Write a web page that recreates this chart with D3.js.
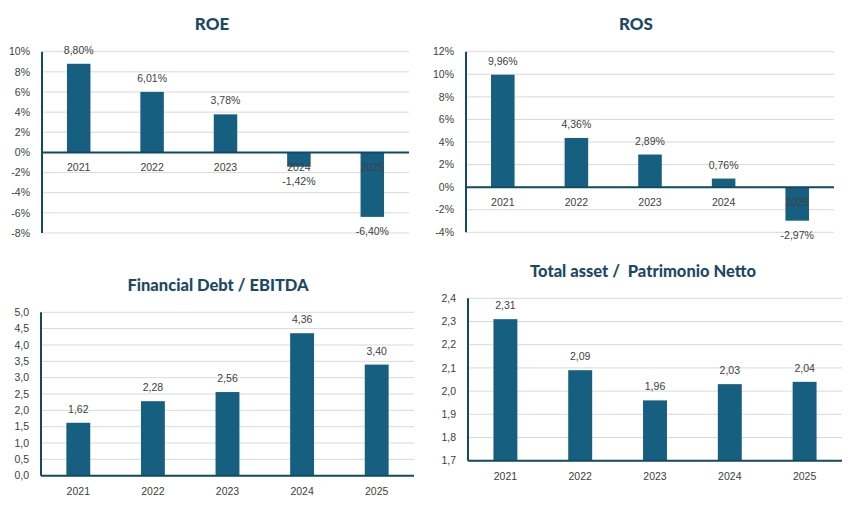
<!DOCTYPE html>
<html>
<head>
<meta charset="utf-8">
<script src="https://cdn.jsdelivr.net/npm/d3@7"></script>
<style>
  body { margin: 0; background: #fff; }
  svg { display: block; }
  .grid line { stroke: #d9d9d9; stroke-width: 1; }
  .tick-label, .cat-label, .val-label { font-family: "Liberation Sans", Arial, sans-serif; font-size: 10.5px; fill: #404040; }
  .title { font-family: Lato, "Open Sans", sans-serif; font-weight: 900; fill: #1d4a63; white-space: pre; }
</style>
</head>
<body>
<svg id="chart" width="857" height="520"></svg>
<script>
var years = ["2021", "2022", "2023", "2024", "2025"];

var roe = [8.80, 6.01, 3.78, -1.42, -6.40];
var roeTicks = [-8, -6, -4, -2, 0, 2, 4, 6, 8, 10];

var ros = [9.96, 4.36, 2.89, 0.76, -2.97];
var rosTicks = [-4, -2, 0, 2, 4, 6, 8, 10, 12];

var debtEbitda = [1.62, 2.28, 2.56, 4.36, 3.40];
var debtTicks = [0, 0.5, 1, 1.5, 2, 2.5, 3, 3.5, 4, 4.5, 5];

var assetEquity = [2.31, 2.09, 1.96, 2.03, 2.04];
var assetTicks = [1.7, 1.8, 1.9, 2.0, 2.1, 2.2, 2.3, 2.4];

var it = d3.formatLocale({decimal: ",", thousands: ".", grouping: [3], currency: ["", "€"], minus: "-"});
var pct0 = function (v) { return it.format(".0f")(v) + "%"; };
var pct2 = function (v) { return it.format(".2f")(v) + "%"; };
var dec1 = it.format(".1f");
var dec2 = it.format(".2f");

var svg = d3.select("#chart");

function drawPanel(p) {
    var g = svg.append("g");

    var x = d3.scaleBand()
        .domain(years)
        .range([p.left, p.right])
        .padding(0);
    var barW = x.bandwidth() * 0.32;

    var y = d3.scaleLinear()
        .domain([p.ticks[0], p.ticks[p.ticks.length - 1]])
        .range([p.bottom, p.top]);

    // gridlines
    g.append("g").attr("class", "grid")
        .selectAll("line")
        .data(p.ticks)
        .enter().append("line")
        .attr("x1", p.left).attr("x2", p.right)
        .attr("y1", function (d) { return y(d); })
        .attr("y2", function (d) { return y(d); });

    // tick labels
    g.append("g").selectAll("text")
        .data(p.ticks)
        .enter().append("text")
        .attr("class", "tick-label")
        .attr("x", p.left - 12)
        .attr("y", function (d) { return y(d); })
        .attr("dy", "0.35em")
        .attr("text-anchor", "end")
        .text(p.tickFmt);

    var base = p.base;

    // bars
    g.append("g").selectAll("rect")
        .data(p.values)
        .enter().append("rect")
        .attr("x", function (d, i) { return x(years[i]) + (x.bandwidth() - barW) / 2; })
        .attr("width", barW)
        .attr("y", function (d) { return y(Math.max(d, base)); })
        .attr("height", function (d) { return Math.abs(y(d) - y(base)); })
        .attr("fill", "#175f80");

    // category labels (sit just under the base line)
    g.append("g").selectAll("text")
        .data(years)
        .enter().append("text")
        .attr("class", "cat-label")
        .attr("x", function (d) { return x(d) + x.bandwidth() / 2; })
        .attr("y", y(base) + 19)
        .attr("text-anchor", "middle")
        .text(function (d) { return d; });

    // value labels
    g.append("g").selectAll("text")
        .data(p.values)
        .enter().append("text")
        .attr("class", "val-label")
        .attr("x", function (d, i) { return x(years[i]) + x.bandwidth() / 2; })
        .attr("y", function (d) { return d >= base ? y(d) - 10 : y(d) + 18; })
        .attr("text-anchor", "middle")
        .text(p.valFmt);

    // axis lines
    g.append("line")
        .attr("x1", p.left).attr("x2", p.right)
        .attr("y1", y(base)).attr("y2", y(base))
        .attr("stroke", "#124a63").attr("stroke-width", 2);
    g.append("line")
        .attr("x1", p.left).attr("x2", p.left)
        .attr("y1", p.top).attr("y2", p.bottom)
        .attr("stroke", "#124a63").attr("stroke-width", 2);

    g.append("text")
        .attr("class", "title")
        .attr("x", p.titleX).attr("y", p.titleY)
        .attr("text-anchor", "middle")
        .style("font-size", p.titleSize + "px")
        .text(p.title);
}

drawPanel({title: "ROE", titleX: 212, titleY: 30, titleSize: 17,
    left: 42, right: 409, top: 51.7, bottom: 233,
    values: roe, ticks: roeTicks, base: 0, tickFmt: pct0, valFmt: pct2});

drawPanel({title: "ROS", titleX: 636, titleY: 30, titleSize: 17,
    left: 466, right: 834, top: 51.7, bottom: 232.3,
    values: ros, ticks: rosTicks, base: 0, tickFmt: pct0, valFmt: pct2});

drawPanel({title: "Financial Debt / EBITDA", titleX: 218, titleY: 291, titleSize: 16.5,
    left: 41, right: 414, top: 312.3, bottom: 475.7,
    values: debtEbitda, ticks: debtTicks, base: 0, tickFmt: dec1, valFmt: dec2});

drawPanel({title: "Total asset /  Patrimonio Netto", titleX: 643, titleY: 277, titleSize: 16.5,
    left: 468, right: 842, top: 298.3, bottom: 460.7,
    values: assetEquity, ticks: assetTicks, base: 1.7, tickFmt: dec1, valFmt: dec2});
</script>
</body>
</html>
